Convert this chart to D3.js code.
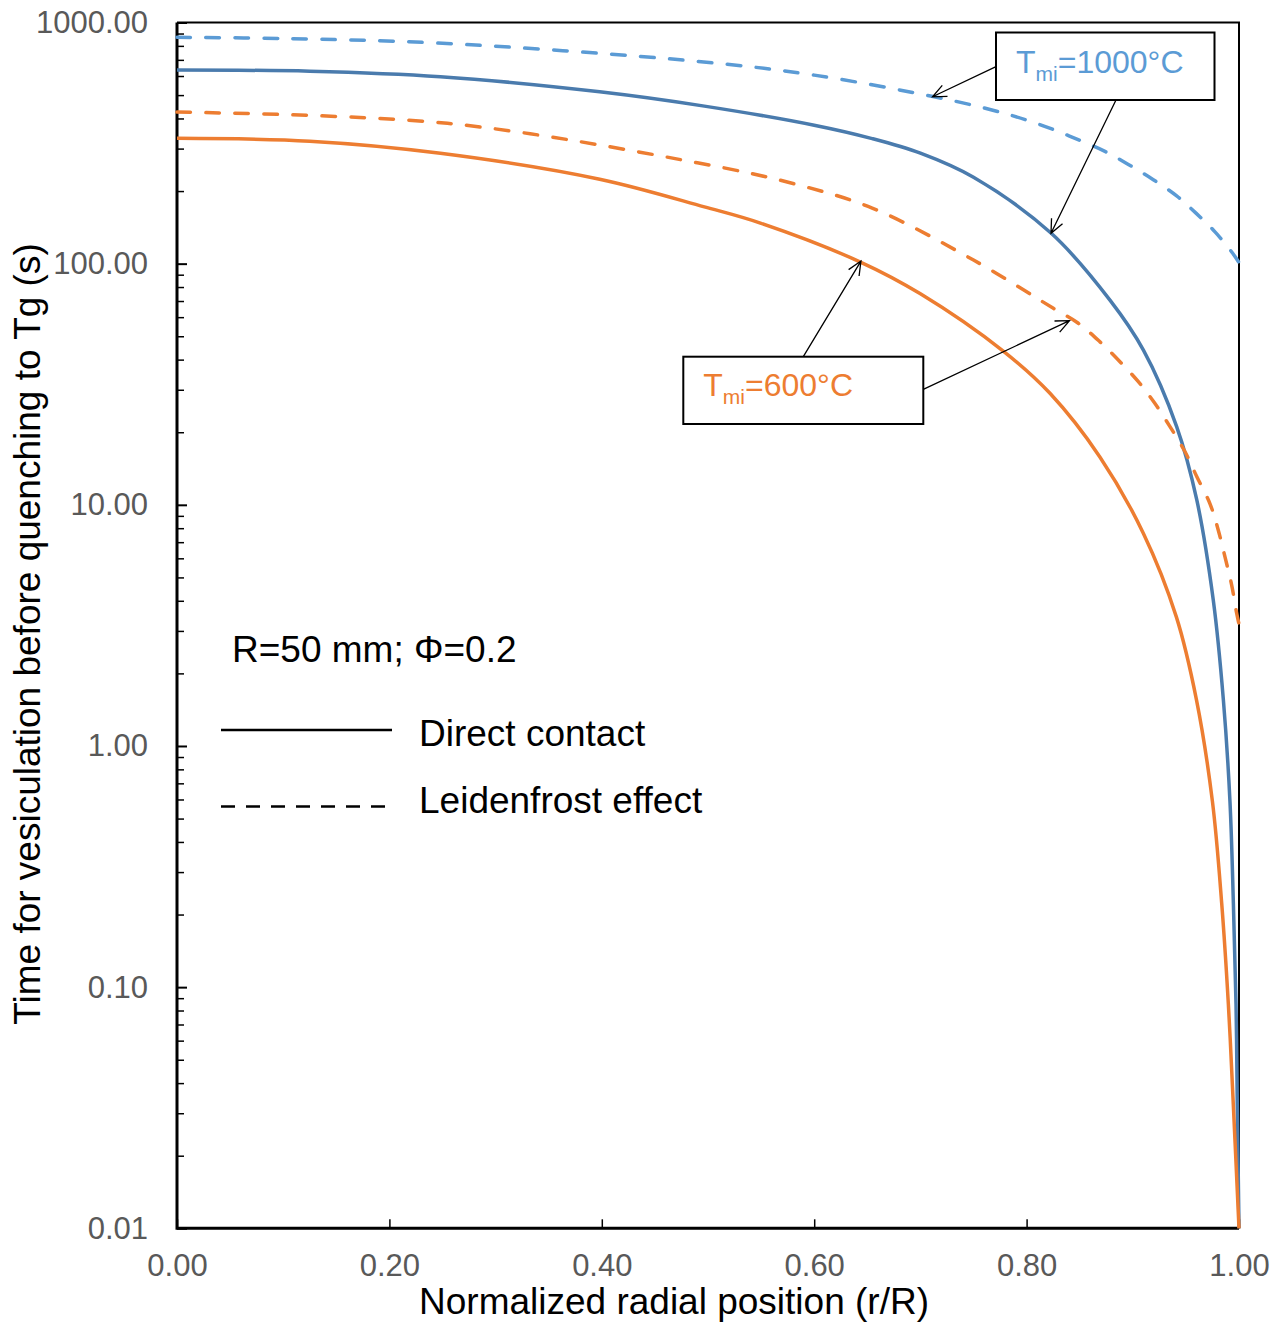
<!DOCTYPE html>
<html>
<head>
<meta charset="utf-8">
<script src="https://cdn.jsdelivr.net/npm/d3@7"></script>
<style>
  body { margin: 0; background: #fff; }
  svg text { font-family: "Liberation Sans", Arial, sans-serif; }
</style>
</head>
<body>
<svg id="chart" width="1283" height="1326"></svg>
<script>
// Data: r/R and time in seconds
const directR1000 = [0, 0.125, 0.248, 0.398, 0.4966, 0.6, 0.6546, 0.7, 0.75, 0.8232, 0.8785, 0.91, 0.9413, 0.9602, 0.9758, 0.9853, 0.9915, 0.9947, 0.9972, 0.9984, 1];
const directT1000 = [635, 628, 596, 516, 450, 375, 330, 287, 228, 133.6, 70.6, 43.8, 21.1, 10.5, 4.02, 1.55, 0.588, 0.223, 0.0847, 0.0322, 0.01];

const leidR1000 = [0, 0.1, 0.25, 0.4934, 0.6, 0.713, 0.7655, 0.8, 0.8258, 0.8497, 0.8738, 0.8958, 0.9193, 0.9413, 0.9595, 0.9774, 0.9937, 1];
const leidT1000 = [868, 858, 820, 688, 605, 492, 436, 394, 359, 325, 292, 258, 223, 191, 162, 135.5, 111, 101];

const directR600 = [0, 0.125, 0.248, 0.398, 0.4966, 0.55, 0.643, 0.7, 0.778, 0.822, 0.869, 0.91, 0.941, 0.96, 0.975, 0.9837, 0.99, 0.9947, 1];
const directT600 = [331, 322, 287, 224, 172, 147, 101.8, 75, 43.4, 29, 15.8, 7.61, 3.43, 1.55, 0.588, 0.223, 0.0847, 0.0322, 0.01];

const leidR600 = [0, 0.2547, 0.49, 0.58, 0.6546, 0.75, 0.8252, 0.8487, 0.8691, 0.8879, 0.9052, 0.9209, 0.935, 0.9492, 0.9602, 0.9727, 0.9805, 0.9868, 0.9931, 0.9978, 1];
const leidT600 = [425, 382, 262, 215, 170, 103.5, 65.3, 56.6, 47.4, 39.2, 32.4, 26.3, 21.1, 16.6, 13.1, 10.1, 7.85, 6.08, 4.65, 3.55, 3.2];

const xTicks = [0, 0.2, 0.4, 0.6, 0.8, 1.0];
const yTicks = [0.01, 0.1, 1, 10, 100, 1000];

const series = [
    {r: directR1000, t: directT1000, color: '#4a7bad', dash: null},
    {r: leidR1000, t: leidT1000, color: '#5b9bd5', dash: '13.5,15.5'},
    {r: directR600, t: directT600, color: '#ed7d31', dash: null},
    {r: leidR600, t: leidT600, color: '#ed7d31', dash: '13.5,15.5'}
];

// Arrow tips in data space
const notes = [
    {label: '=1000°C', color: '#5b9bd5', box: [996, 32.5, 218.5, 67.5], text: [1016, 72.5],
        arrows: [{from: [996, 66.7], r: 0.7114, t: 492}, {from: [1116, 100], r: 0.823, t: 133.6}]},
    {label: '=600°C', color: '#ed7d31', box: [683.3, 356.7, 240, 67.3], text: [703.3, 396],
        arrows: [{from: [803.3, 356.7], r: 0.644, t: 102.5}, {from: [923.3, 389.3], r: 0.8404, t: 58}]}
];

// Layout
const pLeft = 177, pRight = 1239, pTop = 22.5, pBottom = 1228.3;
const svg = d3.select('#chart');

const x = d3.scaleLinear().domain([0, 1]).range([pLeft, pRight]);
const y = d3.scaleLog().domain([0.01, 1000]).range([pBottom, pTop]);

// minor ticks on y
const minorY = [];
for (const base of [0.01, 0.1, 1, 10, 100]) for (let k = 2; k <= 9; k++) minorY.push(+(base * k).toPrecision(3));

svg.append('g')
    .attr('transform', `translate(${pLeft},0)`)
    .call(d3.axisLeft(y).tickValues(minorY).tickSize(-7).tickFormat(''))
    .call(g => g.select('.domain').remove())
    .call(g => g.selectAll('line').attr('stroke', '#000').attr('stroke-width', 1.5));

const gy = svg.append('g')
    .attr('transform', `translate(${pLeft},0)`)
    .call(d3.axisLeft(y).tickValues(yTicks).tickSize(-10).tickPadding(29).tickFormat(d3.format('.2f')));
gy.select('.domain').remove();
gy.selectAll('line').attr('stroke', '#000').attr('stroke-width', 2);
gy.selectAll('text').attr('fill', '#595959').style('font-size', '31px')
    .style('font-family', '"Liberation Sans", Arial, sans-serif');

const gx = svg.append('g')
    .attr('transform', `translate(0,${pBottom})`)
    .call(d3.axisBottom(x).tickValues(xTicks).tickSize(-9).tickPadding(26).tickFormat(d3.format('.2f')));
gx.select('.domain').remove();
gx.selectAll('line').attr('stroke', '#000').attr('stroke-width', 1.5);
gx.selectAll('text').attr('fill', '#595959').style('font-size', '31px')
    .style('font-family', '"Liberation Sans", Arial, sans-serif');

// frame
svg.append('path')
    .attr('d', `M${pLeft},${pTop}H${pRight}V${pBottom}`)
    .attr('fill', 'none').attr('stroke', '#000').attr('stroke-width', 2);
svg.append('path')
    .attr('d', `M${pLeft},${pTop}V${pBottom}H${pRight}`)
    .attr('fill', 'none').attr('stroke', '#000').attr('stroke-width', 3);

// curves
const line = d3.line()
    .x(d => x(d[0]))
    .y(d => y(d[1]))
    .curve(d3.curveCatmullRom.alpha(0.5));

for (const s of series) {
    svg.append('path')
        .datum(s.r.map((r, i) => [r, s.t[i]]))
        .attr('d', line)
        .attr('fill', 'none')
        .attr('stroke', s.color)
        .attr('stroke-width', 3.5)
        .attr('stroke-linecap', s.dash ? 'round' : 'butt')
        .attr('stroke-dasharray', s.dash);
}

// annotations
function arrow(x1, y1, x2, y2) {
    const a = Math.atan2(y2 - y1, x2 - x1), len = 15, spread = 0.42;
    const p = `M${x1},${y1}L${x2},${y2}` +
        `M${x2 - len * Math.cos(a - spread)},${y2 - len * Math.sin(a - spread)}L${x2},${y2}` +
        `L${x2 - len * Math.cos(a + spread)},${y2 - len * Math.sin(a + spread)}`;
    svg.append('path').attr('d', p).attr('fill', 'none').attr('stroke', '#000').attr('stroke-width', 1.3);
}

for (const n of notes) {
    for (const a of n.arrows) arrow(a.from[0], a.from[1], x(a.r), y(a.t));
    svg.append('rect')
        .attr('x', n.box[0]).attr('y', n.box[1]).attr('width', n.box[2]).attr('height', n.box[3])
        .attr('fill', '#fff').attr('stroke', '#000').attr('stroke-width', 2);
    const t = svg.append('text').attr('x', n.text[0]).attr('y', n.text[1])
        .attr('fill', n.color).style('font-size', '32px');
    t.append('tspan').text('T');
    t.append('tspan').attr('dy', 8).style('font-size', '21px').text('mi');
    t.append('tspan').attr('dy', -8).text(n.label);
}

// legend
svg.append('text').attr('x', 232).attr('y', 661.7).style('font-size', '37px').text('R=50 mm; Φ=0.2');
svg.append('line').attr('x1', 221).attr('x2', 392).attr('y1', 730).attr('y2', 730)
    .attr('stroke', '#000').attr('stroke-width', 2.5);
svg.append('line').attr('x1', 221).attr('x2', 392).attr('y1', 806.5).attr('y2', 806.5)
    .attr('stroke', '#000').attr('stroke-width', 2.5).attr('stroke-dasharray', '14,11');
svg.append('text').attr('x', 419).attr('y', 745.7).style('font-size', '37px').text('Direct contact');
svg.append('text').attr('x', 419).attr('y', 813.3).style('font-size', '37px').text('Leidenfrost effect');

// axis titles
svg.append('text')
    .attr('x', 674).attr('y', 1314)
    .attr('text-anchor', 'middle')
    .style('font-size', '37px')
    .text('Normalized radial position (r/R)');

svg.append('text')
    .attr('transform', 'translate(40,634) rotate(-90)')
    .attr('text-anchor', 'middle')
    .style('font-size', '37px')
    .text('Time for vesiculation before quenching to Tg (s)');
</script>
</body>
</html>
